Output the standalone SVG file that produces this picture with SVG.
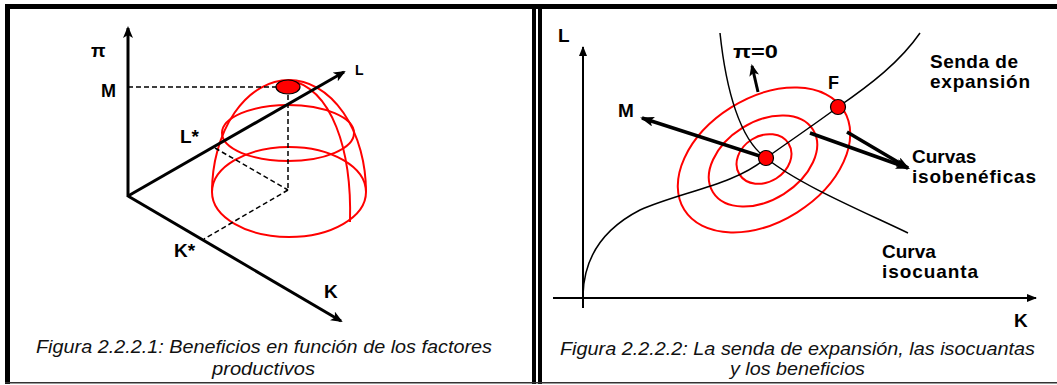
<svg xmlns="http://www.w3.org/2000/svg" width="1057" height="385" viewBox="0 0 1057 385">
<style>
.lbl{font-family:"Liberation Sans",Arial,sans-serif;font-weight:bold;fill:#000}
.cap{font-family:"Liberation Sans",Arial,sans-serif;font-style:italic;font-size:17.5px;fill:#111}
.axis{stroke:#000;fill:none}
.dash{stroke:#000;stroke-width:1.5;stroke-dasharray:5 3;fill:none}
.red{stroke:#f00;stroke-width:2;fill:none}
.curve{stroke:#000;stroke-width:1.5;fill:none}
.dot{fill:#f00;stroke:#000;stroke-width:1.2}
</style>
<defs>
<marker id="ah" markerUnits="userSpaceOnUse" markerWidth="12" markerHeight="10" refX="10" refY="5" orient="auto">
<path d="M0,0 L12,5 L0,10 L3,5 z" fill="#000"/>
</marker>
<marker id="ah2" markerUnits="userSpaceOnUse" markerWidth="10" markerHeight="8" refX="9" refY="4" orient="auto">
<path d="M0,0 L10,4 L0,8 z" fill="#000"/>
</marker>
<marker id="ah3" markerUnits="userSpaceOnUse" markerWidth="14" markerHeight="10" refX="12" refY="5" orient="auto">
<path d="M0,0 L14,5 L0,10 L3,5 z" fill="#000"/>
</marker>
</defs>
<rect width="1057" height="385" fill="#fff"/>
<g id="frame" fill="#000">
<rect x="5" y="4" width="1052" height="5"/>
<rect x="5" y="4" width="5" height="380"/>
<rect x="532" y="4" width="4" height="380"/>
<rect x="538" y="4" width="4" height="380"/>
<rect x="5" y="382" width="1052" height="1.5" fill="#333"/>
</g>
<!-- Left panel -->
<g id="left-dome">
<path class="red" d="M212,192 A77,112 0 0 1 366,192"/>
<ellipse class="red" cx="289" cy="192" rx="77" ry="45"/>
<ellipse class="red" cx="288" cy="133" rx="66" ry="28"/>
<path class="red" d="M289,80 C332,88 352,150 350,222"/>
</g>
<g id="left-dashes">
<path class="dash" d="M128,87 L288,87"/>
<path class="dash" d="M288,87 L288,190"/>
<path class="dash" d="M215,148 L288,190"/>
<path class="dash" d="M288,190 L204,239"/>
</g>
<g id="left-axes">
<line class="axis" stroke-width="3" x1="128" y1="197" x2="128" y2="28" marker-end="url(#ah)"/>
<line class="axis" stroke-width="3" x1="128" y1="196" x2="344" y2="72" marker-end="url(#ah)"/>
<line class="axis" stroke-width="3" x1="128" y1="196" x2="341" y2="321" marker-end="url(#ah)"/>
</g>
<g id="left-max">
<ellipse class="dot" cx="288" cy="87" rx="12" ry="7" stroke-width="1.5"/>
</g>
<g id="left-labels">
<text class="lbl" x="91" y="57" font-size="19">π</text>
<text class="lbl" x="101" y="97" font-size="18">M</text>
<text class="lbl" x="355" y="75" font-size="14">L</text>
<text class="lbl" x="180" y="143" font-size="19">L*</text>
<text class="lbl" x="174" y="257" font-size="19">K*</text>
<text class="lbl" x="324" y="298" font-size="19">K</text>
</g>
<g id="left-caption">
<text class="cap" x="36" y="353" textLength="456" lengthAdjust="spacingAndGlyphs">Figura 2.2.2.1: Beneficios en función de los factores</text>
<text class="cap" x="212" y="375" textLength="103" lengthAdjust="spacingAndGlyphs">productivos</text>
</g>
<!-- Right panel -->
<g id="right-axes">
<line class="axis" stroke-width="2" x1="583" y1="308" x2="583" y2="47" marker-end="url(#ah2)"/>
<line class="axis" stroke-width="2" x1="553" y1="298" x2="1036" y2="298" marker-end="url(#ah2)"/>
</g>
<g id="isobeneficas">
<ellipse class="red" cx="764" cy="160" rx="94" ry="62" transform="rotate(-32 764 160)"/>
<ellipse class="red" cx="763" cy="161" rx="59" ry="39" transform="rotate(-32 763 161)"/>
<ellipse class="red" cx="764" cy="159" rx="29" ry="23" transform="rotate(-32 764 159)"/>
</g>
<g id="senda">
<path class="curve" d="M583,295 C584,255 605,228 640,210 C680,192 735,185 766,158 C790,141 815,124 838,107 C870,85 900,62 920,33"/>
</g>
<g id="isocuanta">
<path class="curve" d="M720,33 C726,90 740,140 766,158 C800,185 860,210 908,233"/>
</g>
<g id="connectors">
<line class="axis" stroke-width="3.5" x1="766" y1="158" x2="642" y2="118" marker-end="url(#ah3)"/>
<line class="axis" stroke-width="3" x1="758" y1="92" x2="752" y2="66" marker-end="url(#ah)"/>
<line class="axis" stroke-width="3.5" x1="810" y1="133" x2="908" y2="168" marker-end="url(#ah3)"/>
<line class="axis" stroke-width="3.5" x1="847" y1="132" x2="908" y2="168" marker-end="url(#ah3)"/>
</g>
<g id="point-M">
<circle class="dot" cx="766" cy="158" r="7.5"/>
</g>
<g id="point-F">
<circle class="dot" cx="838" cy="107" r="7.5"/>
</g>
<g id="right-labels">
<text class="lbl" x="558" y="42" font-size="19">L</text>
<text class="lbl" x="1014" y="327" font-size="19">K</text>
<text class="lbl" x="733" y="58" font-size="19" textLength="45" lengthAdjust="spacingAndGlyphs">π=0</text>
<text class="lbl" x="618" y="117" font-size="19">M</text>
<text class="lbl" x="828" y="89" font-size="18">F</text>
<text class="lbl" x="930" y="68" font-size="19" textLength="88" lengthAdjust="spacing">Senda de</text>
<text class="lbl" x="930" y="88" font-size="19" textLength="100" lengthAdjust="spacing">expansión</text>
<text class="lbl" x="912" y="163" font-size="19">Curvas</text>
<text class="lbl" x="912" y="183" font-size="19" textLength="124" lengthAdjust="spacing">isobenéficas</text>
<text class="lbl" x="882" y="258" font-size="19">Curva</text>
<text class="lbl" x="882" y="278" font-size="19" textLength="96" lengthAdjust="spacing">isocuanta</text>
</g>
<g id="right-caption">
<text class="cap" x="560" y="355" textLength="475" lengthAdjust="spacingAndGlyphs">Figura 2.2.2.2: La senda de expansión, las isocuantas</text>
<text class="cap" x="730" y="375" textLength="135" lengthAdjust="spacingAndGlyphs">y los beneficios</text>
</g>
</svg>
